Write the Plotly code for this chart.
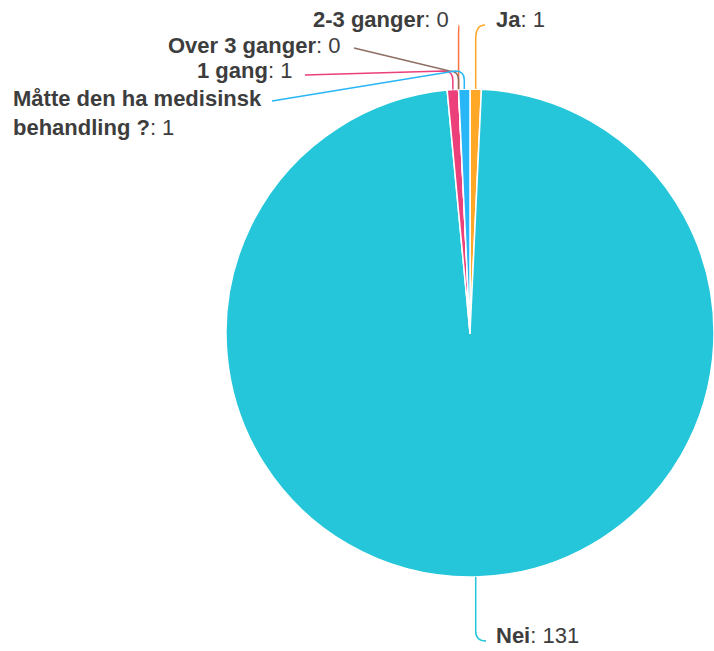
import math
import plotly.graph_objects as go

# ---- data ----
labels = ["Ja", "Nei", "1 gang", "2-3 ganger", "Over 3 ganger",
          "Måtte den ha medisinsk behandling ?"]
values = [1, 131, 1, 0, 0, 1]
colors = ["#FFA726", "#26C6DA", "#EC407A", "#FF7043", "#8D6E63", "#29B6F6"]
label_lines = [["Ja"], ["Nei"], ["1 gang"], ["2-3 ganger"], ["Over 3 ganger"],
               ["Måtte den ha medisinsk", "behandling ?"]]

# ---- layout ----
W, H = 714, 651
R = 244                     # pie radius, px
CX, CY = W - R, 333         # pie centre, px

# label anchor (px), anchor side, and connector start point (px)
label_pos = {
    "Ja": (494, 19, "left", (485, 25)),
    "Nei": (494, 635, "left", (486, 641)),
    "1 gang": (294, 70, "right", (305, 75)),
    "2-3 ganger": (451, 19, "right", (459, 25)),
    "Over 3 ganger": (342, 45, "right", (354, 48)),
    "Måtte den ha medisinsk behandling ?": (11, 113, "left", (272, 101)),
}

def px(x):
    return x / W

def py(y):
    return 1 - y / H

fig = go.Figure(go.Pie(
    labels=labels,
    values=values,
    sort=False,
    direction="clockwise",
    rotation=0,
    marker=dict(colors=colors, line=dict(color="white", width=1.5)),
    textinfo="none",
    hoverinfo="label+value",
    domain=dict(x=[(CX - R) / W, 1], y=[py(CY + R), py(CY - R)]),
    showlegend=False,
))

total = sum(values)
cum = 0
shapes = []
annotations = []
for lab, val, col, lines in zip(labels, values, colors, label_lines):
    mid = (cum + val / 2) / total * 2 * math.pi
    cum += val
    ex = CX + R * math.sin(mid)
    ey = CY - R * math.cos(mid)
    lx, ly, side, (sx, sy) = label_pos[lab]

    if lab == "Nei":
        path = (f"M{px(sx)},{py(sy)} Q{px(ex)},{py(sy)} {px(ex)},{py(sy - 10)} "
                f"L{px(ex)},{py(ey)}")
    elif lab in ("Ja", "2-3 ganger"):
        path = (f"M{px(sx)},{py(sy)} Q{px(ex)},{py(sy)} {px(ex)},{py(sy + 14)} "
                f"L{px(ex)},{py(ey)}")
    else:
        ky = 71
        path = (f"M{px(sx)},{py(sy)} L{px(ex - 9)},{py(ky)} "
                f"Q{px(ex)},{py(ky)} {px(ex)},{py(ky + 9)} L{px(ex)},{py(ey)}")
    shapes.append(dict(type="path", xref="paper", yref="paper", path=path,
                       line=dict(color=col, width=1.5), layer="above"))

    txt = "<br>".join(f"<b>{l}</b>" for l in lines) + f": {val}"
    annotations.append(dict(
        x=px(lx), y=py(ly), xref="paper", yref="paper",
        xanchor=side, yanchor="middle", align="left",
        text=txt, showarrow=False,
        font=dict(family="Liberation Sans, Arial, sans-serif", size=22, color="#3d3d3d"),
    ))

fig.update_layout(
    width=W, height=H,
    margin=dict(l=0, r=0, t=0, b=0),
    paper_bgcolor="white",
    plot_bgcolor="white",
    shapes=shapes,
    annotations=annotations,
)

fig.write_html("out.html",
               config={"displayModeBar": False},
               post_script="document.body.style.margin='0';document.body.style.overflow='hidden';")
